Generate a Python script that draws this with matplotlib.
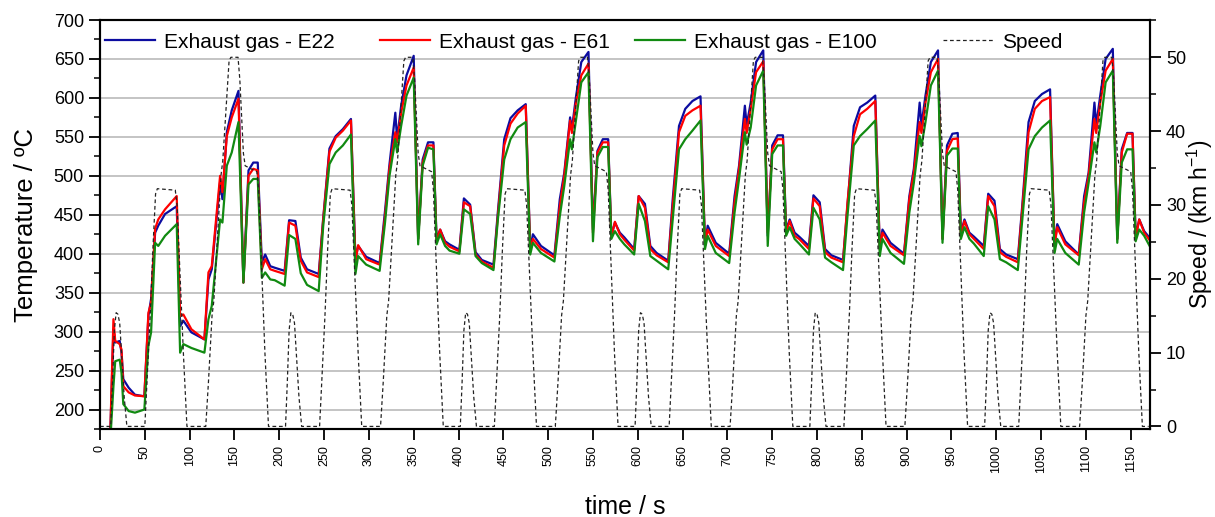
import numpy as np
import matplotlib
matplotlib.use("Agg")
import matplotlib.pyplot as plt
from matplotlib.legend import Legend
from matplotlib.ticker import MultipleLocator

plt.rcParams['font.family'] = ['Liberation Sans', 'DejaVu Sans']
plt.rcParams['mathtext.default'] = 'regular'

# ---- data ----
# first cycle (absolute time, s)
first_t = [11, 15, 17, 22, 24, 26, 32, 39, 49.5, 54, 57, 61.5, 65, 72.6, 85.6, 89.4, 93, 102,
           116.5, 121, 124.7, 134, 136.6, 141.5, 147, 154.5, 160, 165.7, 171, 176, 180.6, 184.3, 190]
# cycles 2-6: time relative to cycle start
cycle_rel_t = [0, 11, 16, 23, 29, 36, 49, 54, 61, 68, 76, 85, 90, 93, 102, 117, 123, 128, 134.5,
               136.5, 141, 147, 155, 160, 165, 171, 177, 180.5, 184.5, 190]
cycle_starts = [195, 390, 585, 780, 975]
end_t = [1172]

e22 = [
    # cycle 1
    150, 303, 286, 288, 273, 239, 228, 219, 217, 320, 342, 427, 436, 451, 461, 307, 314, 299,
    290, 367, 380, 492, 470, 556, 584, 609, 363, 507, 517, 517, 389, 399, 384,
    # cycle 2
    382, 378, 443, 442, 395, 380, 374, 445, 535, 551, 560, 573, 393, 410, 396, 388, 455, 515,
    581, 547, 590, 629, 654, 419, 521, 543, 543, 419, 431, 416,
    # cycle 3
    412, 405, 471, 463, 402, 392, 386, 455, 547, 574, 584, 592, 406, 425, 410, 398, 470, 504,
    575, 560, 601, 646, 659, 431, 532, 547, 547, 423, 440, 427,
    # cycle 4
    421, 406, 474, 464, 410, 401, 391, 470, 564, 586, 596, 602, 410, 436, 414, 400, 474, 513,
    590, 565, 594, 646, 661, 423, 539, 552, 552, 431, 444, 427,
    # cycle 5
    422, 410, 475, 466, 406, 398, 392, 462, 564, 588, 594, 603, 406, 431, 414, 400, 474, 509,
    594, 565, 603, 646, 661, 419, 539, 554, 555, 427, 444, 427,
    # cycle 6
    422, 410, 477, 468, 406, 399, 393, 462, 569, 596, 605, 611, 410, 438, 416, 399, 474, 504,
    594, 565, 603, 650, 663, 419, 534, 555, 555, 423, 444, 429,
    419,
]
e61 = [
    150, 316, 288, 284, 277, 230, 222, 218, 217, 324, 337, 432, 444, 457, 474, 320, 322, 303,
    290, 376, 384, 500, 479, 551, 575, 599, 363, 500, 509, 507, 380, 393, 380,
    378, 374, 440, 436, 391, 376, 370, 443, 531, 549, 558, 571, 389, 411, 393, 386, 448, 510,
    556, 543, 581, 616, 639, 419, 517, 539, 539, 416, 431, 414,
    409, 403, 466, 461, 399, 390, 382, 450, 539, 567, 580, 590, 404, 419, 406, 395, 461, 500,
    571, 555, 594, 629, 644, 427, 530, 543, 543, 421, 441, 425,
    418, 404, 474, 459, 406, 398, 389, 461, 556, 577, 584, 590, 412, 431, 410, 397, 466, 509,
    573, 555, 586, 633, 647, 427, 534, 547, 547, 427, 442, 423,
    419, 406, 471, 461, 402, 395, 389, 466, 551, 579, 586, 596, 406, 427, 410, 398, 470, 504,
    569, 555, 594, 633, 650, 419, 532, 547, 548, 423, 442, 425,
    419, 406, 474, 461, 402, 396, 389, 457, 556, 586, 596, 601, 410, 434, 412, 398, 466, 500,
    573, 555, 594, 635, 650, 419, 530, 554, 554, 419, 444, 427,
    416,
]
e100 = [
    150, 230, 262, 264, 247, 207, 198, 196, 200, 282, 299, 414, 410, 423, 438, 273, 284, 279,
    273, 316, 333, 444, 440, 513, 530, 569, 363, 489, 496, 496, 369, 376, 367,
    366, 359, 424, 419, 375, 360, 352, 435, 515, 530, 539, 553, 374, 397, 386, 378, 440, 500,
    547, 530, 564, 603, 626, 412, 513, 536, 534, 412, 425, 410,
    404, 400, 457, 451, 397, 388, 379, 445, 521, 547, 562, 569, 399, 414, 401, 390, 448, 487,
    547, 534, 571, 620, 633, 416, 524, 537, 537, 419, 429, 419,
    412, 399, 464, 442, 397, 391, 380, 444, 534, 547, 558, 571, 406, 423, 401, 388, 453, 496,
    556, 540, 562, 616, 635, 410, 528, 539, 539, 423, 434, 419,
    413, 399, 459, 444, 395, 389, 379, 449, 539, 551, 560, 571, 397, 419, 401, 387, 453, 491,
    551, 538, 569, 616, 635, 414, 526, 535, 535, 419, 434, 419,
    413, 397, 461, 444, 393, 389, 379, 444, 534, 551, 562, 571, 401, 419, 401, 386, 453, 491,
    543, 530, 564, 620, 635, 414, 517, 534, 534, 416, 431, 423,
    408,
]

# driving cycle speed (one ECE cycle, repeated)
speed_rel_t = [0, 12, 14, 16, 18, 20, 22, 24, 27, 30, 50, 52, 56, 59, 62, 64, 84, 86, 93, 97,
               118, 121, 125, 127, 135, 137, 144, 146, 154, 156, 160, 162, 175, 177, 184, 188, 195]
speed_kmh = [0, 0, 6, 13, 15.4, 15.2, 14, 10, 4, 0, 0, 5, 15, 24, 31.5, 32.2, 32, 30, 10, 0,
             0, 6, 15, 17, 34, 36, 49.5, 50, 50, 47, 37, 35.3, 34.5, 32, 10, 0, 0]
speed_cycle_starts = [0, 195, 390, 585, 780, 975]

time_s = np.concatenate([first_t] + [s + np.array(cycle_rel_t) for s in cycle_starts] + [end_t])
speed_t = np.concatenate([s + np.array(speed_rel_t) for s in speed_cycle_starts])
speed_v = np.tile(speed_kmh, len(speed_cycle_starts))

# ---- figure ----
fig = plt.figure(figsize=(12.15, 5.17), dpi=100)
ax = fig.add_axes([0.0823, 0.1702, 0.8642, 0.7911])

l1, = ax.plot(time_s, e22, color='#0c0ca0', lw=1.6, label='Exhaust gas - E22')
l2, = ax.plot(time_s, e61, color='#ff0000', lw=1.6, label='Exhaust gas - E61')
l3, = ax.plot(time_s, e100, color='#118a11', lw=1.6, label='Exhaust gas - E100')

ax.set_xlim(0, 1171.5)
ax.set_ylim(175, 700)
ax.yaxis.set_major_locator(MultipleLocator(50))
ax.yaxis.set_minor_locator(MultipleLocator(25))
ax.xaxis.set_major_locator(MultipleLocator(50))
ax.yaxis.grid(True, color='#b4b4b4', lw=1.1)
ax.set_axisbelow(True)
ax.tick_params(axis='y', which='major', direction='out', length=8, width=1.3, labelsize=13)
ax.tick_params(axis='y', which='minor', direction='out', length=4.5, width=1.1)
ax.tick_params(axis='x', which='major', direction='out', length=8, width=1.3, labelsize=9,
               labelrotation=90)
for sp in ax.spines.values():
    sp.set_linewidth(1.5)

ax.set_xlabel('time / s', fontsize=18, labelpad=16)
ax.set_ylabel('Temperature / ºC', fontsize=18.5, labelpad=11)

ax2 = ax.twinx()
l4, = ax2.plot(speed_t, speed_v, color='#222222', lw=0.9, linestyle=(0, (3, 2.2)), label='Speed')
ax2.set_ylim(-0.35, 55.05)
ax2.yaxis.set_major_locator(MultipleLocator(10))
ax2.yaxis.set_minor_locator(MultipleLocator(5))
ax2.tick_params(axis='y', which='major', direction='out', length=8, width=1.3, labelsize=13)
ax2.tick_params(axis='y', which='minor', direction='out', length=4.5, width=1.1)
for sp in ax2.spines.values():
    sp.set_linewidth(1.5)
ax2.set_ylabel('Speed / (km h$^{-1}$)', fontsize=16.5, labelpad=-1)

# legend entries placed one by one, as in the original
for handle, x_pos in zip([l1, l2, l3, l4], [0.0048, 0.2667, 0.5095, 0.8029]):
    leg = Legend(ax2, [handle], [handle.get_label()], loc='center left',
                 bbox_to_anchor=(x_pos, 0.946), frameon=False, fontsize=15,
                 handlelength=2.4, handletextpad=0.45, borderpad=0, borderaxespad=0)
    ax2.add_artist(leg)

fig.savefig('out.png', dpi=100)
